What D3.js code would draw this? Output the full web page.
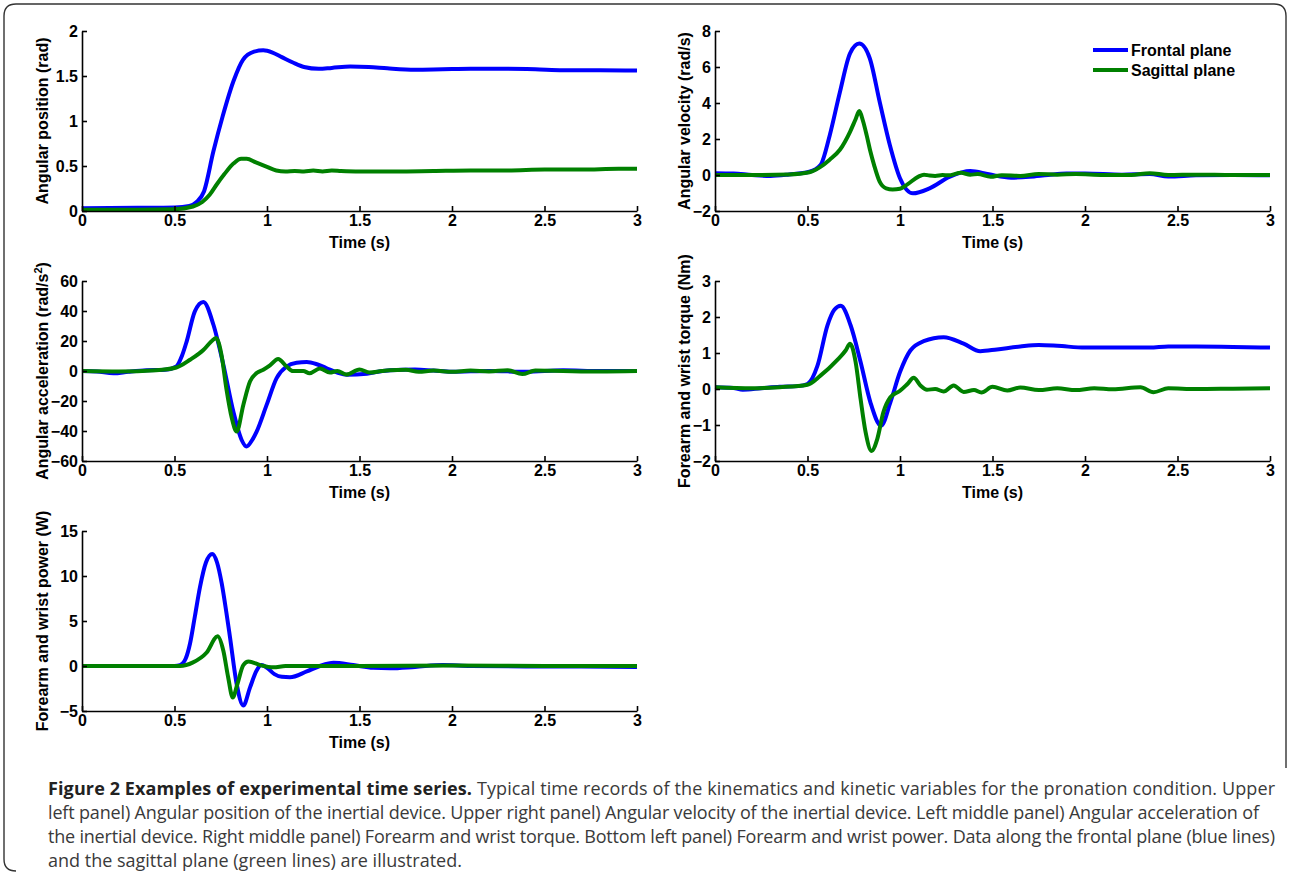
<!DOCTYPE html>
<html>
<head>
<meta charset="utf-8">
<script src="https://cdn.jsdelivr.net/npm/d3@7"></script>
<style>
  body { margin: 0; background: #fff; }
  svg text { font-family: "Liberation Sans", Arial, sans-serif; }
</style>
</head>
<body>
<div id="plot-container"></div>
<script>
// Time records, [time (s), value]
const posFrontal = [[0,0.03],[0.3,0.035],[0.5,0.04],[0.58,0.055],[0.62,0.1],[0.66,0.22],[0.71,0.66],[0.76,1.05],[0.82,1.45],[0.87,1.68],[0.93,1.77],[0.98,1.785],[1.03,1.76],[1.08,1.71],[1.14,1.65],[1.2,1.6],[1.28,1.58],[1.35,1.59],[1.45,1.605],[1.55,1.6],[1.65,1.585],[1.8,1.57],[1.95,1.575],[2.1,1.58],[2.3,1.58],[2.45,1.575],[2.6,1.565],[2.8,1.565],[3.0,1.56]];
const posSagittal = [[0,0.015],[0.3,0.015],[0.5,0.02],[0.6,0.05],[0.65,0.1],[0.69,0.18],[0.73,0.3],[0.77,0.41],[0.82,0.53],[0.86,0.58],[0.89,0.58],[0.94,0.54],[1.0,0.49],[1.05,0.45],[1.1,0.44],[1.15,0.445],[1.2,0.44],[1.25,0.45],[1.3,0.44],[1.35,0.45],[1.4,0.445],[1.5,0.44],[1.6,0.44],[1.7,0.44],[1.9,0.445],[2.1,0.45],[2.3,0.45],[2.5,0.46],[2.7,0.46],[2.9,0.47],[3.0,0.47]];

const velFrontal = [[0,0.1],[0.1,0.08],[0.2,0],[0.3,-0.05],[0.4,0.03],[0.51,0.18],[0.57,0.55],[0.62,2.2],[0.675,4.6],[0.73,6.76],[0.78,7.3],[0.836,6.5],[0.89,4.07],[0.945,1.67],[1.0,-0.18],[1.07,-1.02],[1.16,-0.74],[1.27,-0.09],[1.38,0.22],[1.48,0.04],[1.6,-0.15],[1.7,-0.1],[1.8,0],[1.9,0.08],[2.0,0.08],[2.2,0.02],[2.35,0.05],[2.45,-0.08],[2.6,-0.02],[2.8,0],[3.0,-0.02]];
const velSagittal = [[0,0],[0.2,0],[0.4,0.03],[0.51,0.15],[0.57,0.45],[0.62,0.85],[0.675,1.4],[0.73,2.4],[0.76,3.1],[0.78,3.55],[0.8,3.0],[0.82,2.2],[0.84,1.3],[0.86,0.55],[0.89,-0.37],[0.925,-0.74],[0.96,-0.8],[1.0,-0.76],[1.04,-0.52],[1.1,-0.09],[1.13,0.02],[1.16,-0.03],[1.19,-0.05],[1.23,0],[1.26,-0.02],[1.33,0.12],[1.38,0.02],[1.42,0.05],[1.49,-0.1],[1.55,-0.01],[1.65,-0.05],[1.75,0.05],[1.85,0.02],[1.95,0.05],[2.1,0],[2.25,0],[2.35,0.1],[2.45,0],[2.6,0.02],[2.8,0],[3.0,0]];

const accFrontal = [[0,0],[0.08,-0.3],[0.17,-1.5],[0.25,-0.5],[0.35,0.5],[0.45,0.8],[0.51,3],[0.54,10],[0.566,19.8],[0.61,39.8],[0.656,46],[0.71,31],[0.764,4.2],[0.818,-27],[0.863,-46],[0.889,-50.4],[0.92,-46],[0.944,-40.4],[0.998,-22.6],[1.052,-4.7],[1.106,3],[1.16,5.5],[1.215,6],[1.27,4.5],[1.32,2],[1.38,-1],[1.43,-2.5],[1.54,-1.8],[1.6,-0.5],[1.665,0.5],[1.8,1],[1.9,0.3],[2.0,-0.5],[2.2,0],[2.4,-0.5],[2.6,0.5],[2.8,0],[3.0,0]];
const accSagittal = [[0,0],[0.2,-0.3],[0.4,0.5],[0.51,2.3],[0.584,7.5],[0.656,14],[0.70,19.8],[0.724,22],[0.754,10.8],[0.78,-11.4],[0.81,-31.5],[0.836,-40.4],[0.872,-22.6],[0.908,-7],[0.944,-1.4],[0.98,0.8],[1.016,3.7],[1.06,8],[1.106,3],[1.14,0],[1.196,0],[1.23,-1.5],[1.286,1.7],[1.34,-1],[1.38,0],[1.43,-2.4],[1.5,1],[1.555,-1],[1.62,0],[1.665,0.5],[1.75,0.8],[1.82,-0.5],[1.9,0.3],[2.0,-0.5],[2.1,0.3],[2.2,-0.3],[2.3,0.5],[2.38,-2],[2.45,0.3],[2.6,0],[2.8,-0.3],[3.0,0]];

const torFrontal = [[0,0.05],[0.1,0.03],[0.15,-0.02],[0.25,0.02],[0.35,0.06],[0.45,0.08],[0.5,0.14],[0.554,0.65],[0.608,1.77],[0.645,2.2],[0.68,2.31],[0.733,1.77],[0.787,0.75],[0.84,-0.37],[0.898,-1.02],[0.948,-0.37],[1.0,0.47],[1.056,1.07],[1.128,1.33],[1.236,1.44],[1.344,1.26],[1.434,1.05],[1.524,1.1],[1.65,1.18],[1.75,1.22],[1.85,1.2],[2.0,1.15],[2.2,1.15],[2.35,1.15],[2.45,1.18],[2.6,1.18],[2.8,1.17],[3.0,1.15]];
const torSagittal = [[0,0.05],[0.2,0.02],[0.35,0.05],[0.5,0.12],[0.57,0.37],[0.66,0.8],[0.706,1.07],[0.73,1.26],[0.76,0.75],[0.787,-0.28],[0.814,-1.2],[0.846,-1.72],[0.877,-1.39],[0.91,-0.65],[0.948,-0.23],[1.0,-0.05],[1.04,0.14],[1.074,0.31],[1.11,0.1],[1.146,-0.02],[1.19,0],[1.236,-0.07],[1.29,0.1],[1.344,-0.08],[1.4,-0.03],[1.44,-0.1],[1.5,0.06],[1.58,-0.04],[1.65,0.04],[1.75,-0.03],[1.85,0.02],[1.95,-0.03],[2.05,0.02],[2.15,-0.01],[2.3,0.05],[2.37,-0.09],[2.45,0.02],[2.6,0],[2.8,0.01],[3.0,0.02]];

const powFrontal = [[0,0],[0.5,0],[0.53,0.1],[0.56,0.8],[0.584,2.5],[0.61,5.5],[0.638,8.8],[0.67,11.5],[0.704,12.45],[0.73,11.5],[0.755,9.2],[0.78,6],[0.80,3.2],[0.836,-2],[0.872,-4.4],[0.908,-2.4],[0.944,-0.5],[0.97,0.1],[1.0,-0.2],[1.04,-0.9],[1.08,-1.2],[1.124,-1.25],[1.215,-0.6],[1.286,0],[1.36,0.35],[1.466,0.1],[1.574,-0.2],[1.665,-0.25],[1.8,-0.1],[1.95,0.1],[2.1,0],[2.4,-0.05],[2.7,-0.05],[3.0,-0.1]];
const powSagittal = [[0,0],[0.53,0],[0.6,0.4],[0.674,1.5],[0.733,3.3],[0.764,1.7],[0.79,-1.25],[0.815,-3.5],[0.84,-2],[0.872,0.1],[0.9,0.5],[0.963,0.1],[1.035,-0.15],[1.1,0],[1.5,0],[2.0,0.05],[2.5,0],[3.0,0]];

// Tick values
const timeTicks = [0, 0.5, 1, 1.5, 2, 2.5, 3];
const posTicks = [0, 0.5, 1, 1.5, 2];
const velTicks = [-2, 0, 2, 4, 6, 8];
const accTicks = [-60, -40, -20, 0, 20, 40, 60];
const torTicks = [-2, -1, 0, 1, 2, 3];
const powTicks = [-5, 0, 5, 10, 15];

const seriesNames = ["Frontal plane", "Sagittal plane"];
const blue = "#0000ff";
const green = "#008000";

const plotW = 555;
const plotH = 180;
const fontSize = 16;

const svg = d3.select("#plot-container")
    .append("svg")
    .attr("width", 1290)
    .attr("height", 875);

svg.append("rect").attr("width", 1290).attr("height", 875).attr("fill", "#fff");

// Rounded frame round the figure (open at the lower right)
svg.append("path")
    .attr("d", "M16,871 Q4,871 4,859 L4,16 Q4,4 16,4 L1274,4 Q1286,4 1286,16 L1286,768")
    .attr("fill", "none")
    .attr("stroke", "#333")
    .attr("stroke-width", 1.4);

const panels = [
    { left: 82, top: 31, labelX: -34, label: ["Angular position (rad)"], domain: [0, 2], ticks: posTicks, frontal: posFrontal, sagittal: posSagittal },
    { left: 715, top: 31, labelX: -25, label: ["Angular velocity (rad/s)"], domain: [-2, 8], ticks: velTicks, frontal: velFrontal, sagittal: velSagittal, legend: true },
    { left: 82, top: 281, labelX: -34, label: ["Angular acceleration (rad/s", "2", ")"], domain: [-60, 60], ticks: accTicks, frontal: accFrontal, sagittal: accSagittal },
    { left: 715, top: 281, labelX: -25, label: ["Forearm and wrist torque (Nm)"], domain: [-2, 3], ticks: torTicks, frontal: torFrontal, sagittal: torSagittal },
    { left: 82, top: 531, labelX: -34, label: ["Forearm and wrist power (W)"], domain: [-5, 15], ticks: powTicks, frontal: powFrontal, sagittal: powSagittal }
];

panels.forEach(drawPanel);

function drawPanel(p) {
    const g = svg.append("g").attr("transform", `translate(${p.left},${p.top})`);

    const x = d3.scaleLinear().domain([0, 3]).range([0, plotW]);
    const y = d3.scaleLinear().domain(p.domain).range([plotH, 0]);

    const line = d3.line()
        .x(d => x(d[0]))
        .y(d => y(d[1]))
        .curve(d3.curveMonotoneX);

    g.append("path").datum(p.frontal)
        .attr("d", line)
        .attr("fill", "none")
        .attr("stroke", blue)
        .attr("stroke-width", 4)
        .attr("stroke-linejoin", "round");

    g.append("path").datum(p.sagittal)
        .attr("d", line)
        .attr("fill", "none")
        .attr("stroke", green)
        .attr("stroke-width", 4)
        .attr("stroke-linejoin", "round");

    // axes, ticks pointing inwards like matlab
    const xAxis = g.append("g")
        .attr("transform", `translate(0,${plotH})`)
        .call(d3.axisBottom(x).tickValues(timeTicks).tickFormat(d3.format("~g"))
            .tickSizeInner(-5).tickSizeOuter(0).tickPadding(4));

    const yAxis = g.append("g")
        .call(d3.axisLeft(y).tickValues(p.ticks).tickFormat(d3.format("~g"))
            .tickSizeInner(-5).tickSizeOuter(0).tickPadding(4));

    [xAxis, yAxis].forEach(a => {
        a.selectAll("path, line").attr("stroke", "#000").attr("stroke-width", 1.6);
        a.selectAll("text")
            .attr("font-family", "Liberation Sans, Arial, sans-serif")
            .attr("font-size", fontSize)
            .attr("font-weight", "bold")
            .attr("fill", "#000");
    });

    g.append("text")
        .attr("x", plotW / 2)
        .attr("y", plotH + 37)
        .attr("text-anchor", "middle")
        .attr("font-size", fontSize)
        .attr("font-weight", "bold")
        .text("Time (s)");

    const yl = g.append("text")
        .attr("transform", `translate(${p.labelX},${plotH / 2}) rotate(-90)`)
        .attr("text-anchor", "middle")
        .attr("font-size", fontSize)
        .attr("font-weight", "bold");
    yl.append("tspan").text(p.label[0]);
    if (p.label.length > 1) {
        yl.append("tspan").attr("dy", -6).attr("font-size", 11).text(p.label[1]);
        yl.append("tspan").attr("dy", 6).text(p.label[2]);
    }

    if (p.legend) {
        const lg = g.append("g").attr("transform", `translate(${plotW - 177},19)`);
        [blue, green].forEach((c, i) => {
            lg.append("line")
                .attr("x1", 0).attr("x2", 35)
                .attr("y1", i * 20).attr("y2", i * 20)
                .attr("stroke", c).attr("stroke-width", 4);
            lg.append("text")
                .attr("x", 38).attr("y", i * 20 + 5.5)
                .attr("font-size", fontSize)
                .attr("font-weight", "bold")
                .text(seriesNames[i]);
        });
    }
}

// Caption
const captionLines = [
    "left panel) Angular position of the inertial device. Upper right panel) Angular velocity of the inertial device. Left middle panel) Angular acceleration of",
    "the inertial device. Right middle panel) Forearm and wrist torque. Bottom left panel) Forearm and wrist power. Data along the frontal plane (blue lines)",
    "and the sagittal plane (green lines) are illustrated."
];
const captionWidths = [1211, 1227, null];

const cap = svg.append("g")
    .attr("font-size", 18)
    .attr("fill", "#3a3a3a");

const first = cap.append("text")
    .attr("x", 48).attr("y", 795)
    .style("font-family", "Open Sans, Noto Sans, sans-serif")
    .attr("textLength", 1227)
    .attr("lengthAdjust", "spacing");
first.append("tspan").attr("font-weight", "bold").attr("fill", "#222")
    .text("Figure 2 Examples of experimental time series.");
first.append("tspan")
    .text(" Typical time records of the kinematics and kinetic variables for the pronation condition. Upper");

captionLines.forEach((t, i) => {
    const tx = cap.append("text")
        .attr("x", 48).attr("y", 819 + i * 24)
        .style("font-family", "Open Sans, Noto Sans, sans-serif")
        .text(t);
    if (captionWidths[i]) tx.attr("textLength", captionWidths[i]).attr("lengthAdjust", "spacing");
});
</script>
</body>
</html>
